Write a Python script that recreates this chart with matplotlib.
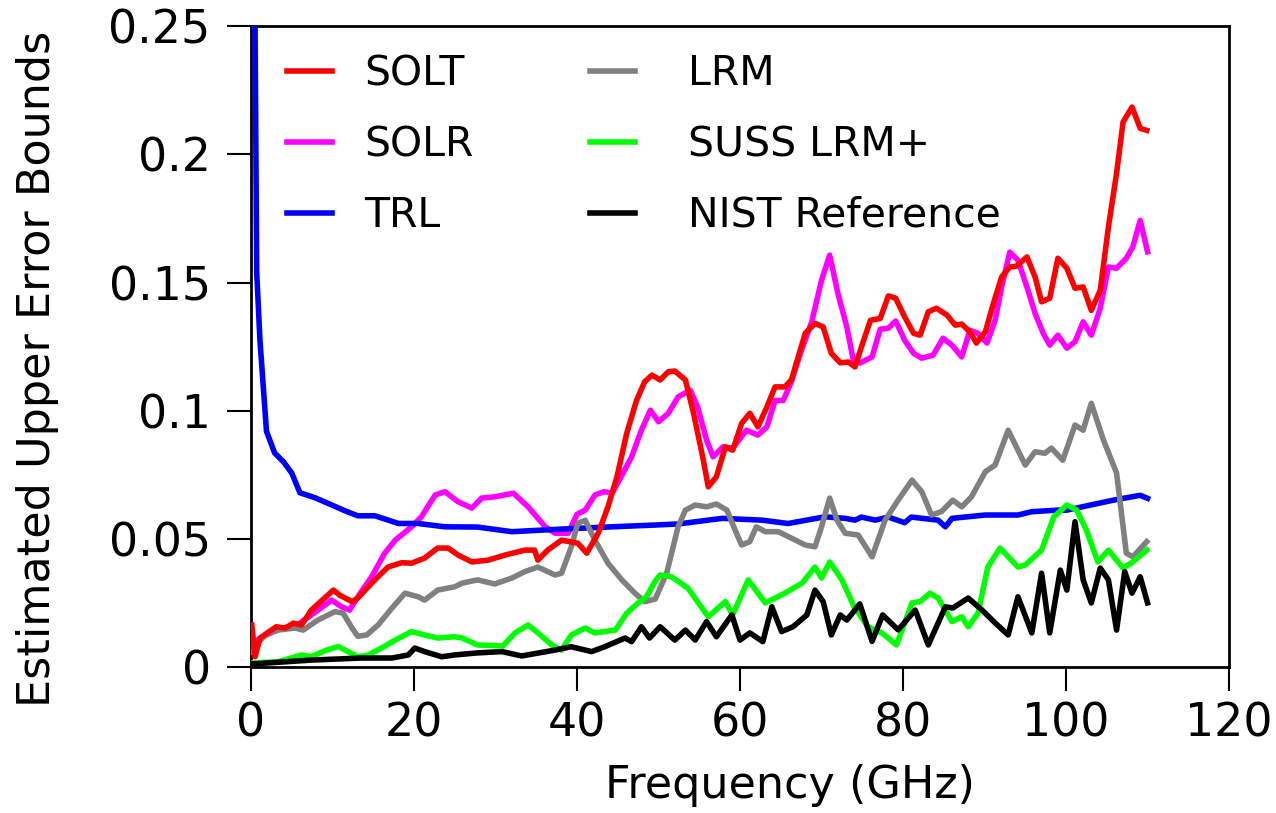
import matplotlib
matplotlib.use("Agg")
import matplotlib.pyplot as plt
from matplotlib.lines import Line2D
from matplotlib.ticker import FormatStrFormatter

# (frequency GHz, error bound)
solt = [(0.1, 0.0164), (0.5, 0.004), (1.1, 0.0113), (3.1, 0.0157), (4.2, 0.0152), (5.2, 0.0171),
        (6.2, 0.0164), (7.4, 0.0222), (10.1, 0.030), (10.9, 0.028), (12.4, 0.0255), (13.1, 0.0269),
        (14.8, 0.0327), (16.8, 0.039), (18.5, 0.0407), (19.7, 0.0405), (21.3, 0.0425), (22.9, 0.0464),
        (24.2, 0.0464), (25.4, 0.0437), (27.1, 0.041), (29.1, 0.0417), (31.2, 0.0437), (33.6, 0.0456),
        (34.8, 0.0456), (35.2, 0.0417), (36.4, 0.0456), (38.1, 0.0495), (40.1, 0.0483), (41.2, 0.0444),
        (42.6, 0.0522), (43.8, 0.0625), (44.9, 0.0742), (46.1, 0.0912), (47.3, 0.104), (48.3, 0.1113),
        (49.2, 0.1139), (50.2, 0.112), (51.2, 0.1152), (52.0, 0.1155), (53.3, 0.112), (54.3, 0.099),
        (55.5, 0.0807), (56.1, 0.0703), (57.1, 0.0742), (58.2, 0.0859), (59.1, 0.0846), (60.2, 0.0951),
        (61.2, 0.099), (62.2, 0.0937), (63.3, 0.1015), (64.3, 0.1093), (65.5, 0.1093), (66.3, 0.112),
        (68.0, 0.1302), (69.2, 0.1341), (70.2, 0.1327), (71.2, 0.1224), (72.3, 0.1187), (73.3, 0.119),
        (74.1, 0.1171), (74.9, 0.1249), (76.0, 0.1353), (77.2, 0.136), (78.2, 0.1448), (79.1, 0.1439),
        (80.2, 0.1366), (81.3, 0.1302), (82.1, 0.1295), (83.1, 0.1386), (84.1, 0.140), (85.4, 0.1373),
        (86.4, 0.1334), (87.2, 0.1338), (88.2, 0.1308), (89.0, 0.1264), (90.1, 0.1308), (91.1, 0.142),
        (92.1, 0.1522), (93.1, 0.1561), (93.9, 0.1564), (95.2, 0.160), (96.2, 0.1522), (97.0, 0.1425),
        (98.0, 0.1439), (99.0, 0.1595), (100.1, 0.1556), (101.1, 0.1478), (102.1, 0.1483), (103.1, 0.1392),
        (104.2, 0.147), (105.2, 0.1717), (106.2, 0.1927), (107.0, 0.2127), (108.1, 0.2185), (109.1, 0.2102),
        (109.9, 0.2094)]

solr = [(0.2, 0.008), (1.0, 0.011), (1.9, 0.0125), (3.8, 0.0152), (5.5, 0.016), (7.4, 0.0203),
        (9.9, 0.0261), (11.1, 0.0235), (12.1, 0.0222), (13.4, 0.0288), (14.8, 0.0352), (16.4, 0.0444),
        (17.7, 0.0495), (19.7, 0.0547), (20.9, 0.0586), (22.6, 0.0671), (23.8, 0.0684), (25.4, 0.0645),
        (27.1, 0.062), (28.3, 0.0659), (29.9, 0.0664), (32.2, 0.0678), (34.0, 0.0625), (36.1, 0.0547),
        (37.3, 0.0522), (38.9, 0.0522), (40.0, 0.0596), (41.0, 0.0612), (42.2, 0.0671), (43.3, 0.0684),
        (44.3, 0.0678), (45.2, 0.073), (46.7, 0.082), (47.9, 0.0924), (49.0, 0.1002), (50.0, 0.0957),
        (51.2, 0.099), (52.4, 0.1054), (53.9, 0.108), (54.8, 0.1015), (55.9, 0.0885), (56.7, 0.082),
        (57.9, 0.0859), (59.1, 0.0854), (60.8, 0.0924), (62.2, 0.0905), (63.3, 0.0937), (64.3, 0.104),
        (65.3, 0.104), (66.3, 0.1113), (67.4, 0.1224), (68.8, 0.1347), (70.0, 0.1509), (71.0, 0.1607),
        (72.0, 0.1459), (73.1, 0.1327), (73.9, 0.1197), (74.7, 0.1186), (76.2, 0.121), (77.2, 0.1318),
        (78.2, 0.1322), (79.1, 0.135), (80.2, 0.1275), (81.3, 0.1224), (82.3, 0.1205), (83.7, 0.1217),
        (84.9, 0.1283), (86.0, 0.1256), (87.2, 0.121), (88.2, 0.1314), (89.2, 0.1302), (90.3, 0.1264),
        (91.3, 0.1353), (92.1, 0.1483), (93.1, 0.1619), (94.1, 0.1587), (95.2, 0.1483), (96.2, 0.138),
        (97.2, 0.1302), (98.0, 0.1256), (99.0, 0.1295), (100.1, 0.1244), (101.1, 0.1269), (102.1, 0.1347),
        (103.1, 0.1295), (104.2, 0.14), (105.2, 0.1561), (106.2, 0.1556), (107.4, 0.1595), (108.2, 0.164),
        (109.1, 0.1743), (110.0, 0.162)]

trl = [(0.25, 0.32), (0.5, 0.25), (0.7, 0.154), (1.1, 0.1275), (1.9, 0.092), (2.9, 0.0835),
       (4.0, 0.080), (5.0, 0.0757), (6.0, 0.068), (7.9, 0.066), (11.5, 0.061), (13.1, 0.059),
       (15.2, 0.059), (18.1, 0.056), (20.5, 0.056), (23.8, 0.0547), (27.8, 0.0546), (32.0, 0.0528),
       (38.0, 0.0538), (44.3, 0.0547), (49.6, 0.0554), (52.4, 0.0558), (57.8, 0.058), (62.7, 0.0573),
       (65.9, 0.056), (70.4, 0.0586), (72.9, 0.058), (74.1, 0.0573), (74.9, 0.0585), (76.6, 0.0573),
       (78.2, 0.0585), (80.2, 0.0563), (81.0, 0.0585), (84.3, 0.0573), (85.2, 0.0547), (86.0, 0.058),
       (90.1, 0.0593), (94.1, 0.0593), (95.8, 0.0606), (98.9, 0.0612), (100.1, 0.0612), (103.0, 0.0632),
       (105.8, 0.0651), (109.1, 0.067), (110.0, 0.0658)]

lrm = [(0.0, 0.006), (1.0, 0.010), (2.0, 0.013), (3.3, 0.0144), (5.4, 0.0152), (6.4, 0.0144),
       (8.2, 0.0183), (10.3, 0.0216), (11.3, 0.021), (12.4, 0.0152), (13.1, 0.012), (14.2, 0.0125),
       (15.6, 0.0164), (17.3, 0.023), (18.9, 0.0288), (20.5, 0.0274), (21.3, 0.0261), (22.9, 0.030),
       (25.0, 0.0313), (25.9, 0.0327), (27.8, 0.034), (29.9, 0.0324), (32.0, 0.0347), (33.6, 0.0372),
       (35.2, 0.039), (37.3, 0.0359), (38.1, 0.0366), (39.3, 0.0469), (40.1, 0.0561), (41.0, 0.0573),
       (42.2, 0.0495), (43.8, 0.0405), (45.5, 0.034), (47.1, 0.0288), (48.3, 0.0255), (49.6, 0.0265),
       (51.0, 0.0366), (52.4, 0.0547), (53.3, 0.0612), (54.5, 0.0632), (55.9, 0.0625), (57.1, 0.0636),
       (58.4, 0.0612), (59.4, 0.0534), (60.2, 0.0476), (61.2, 0.0489), (62.0, 0.0547), (63.1, 0.0528),
       (64.7, 0.0528), (66.3, 0.0503), (68.0, 0.0476), (69.2, 0.0469), (70.0, 0.0547), (71.0, 0.0659),
       (71.9, 0.0573), (72.9, 0.0522), (74.5, 0.0515), (76.2, 0.043), (77.8, 0.0573), (79.4, 0.0651),
       (81.1, 0.0729), (82.3, 0.0684), (83.5, 0.0593), (84.7, 0.0606), (86.1, 0.0651), (87.2, 0.0625),
       (88.4, 0.0664), (90.1, 0.0762), (91.3, 0.0788), (92.9, 0.0924), (95.0, 0.0788), (96.2, 0.084),
       (97.4, 0.0834), (98.2, 0.0854), (99.6, 0.0807), (101.1, 0.0944), (102.1, 0.0924), (103.1, 0.1029),
       (104.6, 0.0885), (106.2, 0.0757), (107.4, 0.0444), (108.2, 0.043), (109.9, 0.0489)]

suss = [(0.3, 0.0016), (3.3, 0.002), (6.2, 0.0047), (7.4, 0.004), (9.1, 0.0064), (10.7, 0.008),
        (11.9, 0.006), (13.1, 0.004), (14.4, 0.0047), (16.0, 0.0074), (17.7, 0.0105), (19.7, 0.0138),
        (21.3, 0.0125), (22.9, 0.0113), (25.0, 0.0118), (25.9, 0.0113), (27.8, 0.0086), (30.9, 0.0082),
        (32.4, 0.0133), (34.0, 0.0164), (35.2, 0.0133), (36.9, 0.0086), (38.1, 0.0066), (39.3, 0.0125),
        (41.0, 0.0152), (42.2, 0.0133), (44.7, 0.0144), (46.1, 0.021), (47.5, 0.025), (48.5, 0.0274),
        (49.6, 0.0335), (50.2, 0.0359), (51.6, 0.0352), (53.6, 0.0308), (56.1, 0.0196), (58.2, 0.0255),
        (59.1, 0.0203), (61.0, 0.034), (63.1, 0.025), (65.5, 0.0288), (67.6, 0.0327), (69.2, 0.039),
        (70.0, 0.0347), (71.0, 0.041), (72.5, 0.034), (74.0, 0.0235), (75.7, 0.0157), (77.4, 0.0133),
        (79.2, 0.0086), (81.1, 0.025), (82.1, 0.0255), (83.3, 0.0288), (84.3, 0.0269), (86.0, 0.0177),
        (87.2, 0.0196), (88.0, 0.0157), (89.2, 0.021), (90.4, 0.039), (91.9, 0.0464), (94.1, 0.039),
        (95.0, 0.0398), (97.0, 0.0456), (98.5, 0.0586), (100.1, 0.0632), (101.3, 0.0612), (102.5, 0.0534),
        (103.9, 0.041), (105.2, 0.0456), (107.0, 0.0386), (108.2, 0.041), (109.9, 0.0456)]

nist = [(0.3, 0.0012), (7.4, 0.0027), (13.6, 0.0035), (17.3, 0.0035), (19.3, 0.0047), (20.1, 0.0074),
        (21.3, 0.006), (23.4, 0.004), (25.0, 0.0047), (27.8, 0.0055), (30.8, 0.006), (33.2, 0.0043),
        (37.3, 0.0066), (39.3, 0.0079), (41.8, 0.006), (43.4, 0.0079), (45.9, 0.0113), (46.7, 0.0099),
        (47.9, 0.0157), (48.9, 0.0113), (50.2, 0.0157), (52.0, 0.0105), (53.3, 0.0144), (54.5, 0.0105),
        (55.9, 0.0177), (57.1, 0.0118), (59.0, 0.0203), (60.0, 0.0105), (61.2, 0.0133), (62.8, 0.0099),
        (63.9, 0.0235), (65.1, 0.0138), (66.5, 0.0157), (68.2, 0.0203), (69.2, 0.030), (70.2, 0.0255),
        (71.2, 0.0125), (72.3, 0.0203), (73.1, 0.0183), (74.7, 0.0246), (76.2, 0.010), (77.5, 0.0203),
        (79.4, 0.0145), (81.5, 0.0222), (83.1, 0.0086), (85.2, 0.0235), (86.1, 0.023), (88.0, 0.0269),
        (89.7, 0.0222), (91.3, 0.0172), (92.9, 0.0125), (94.1, 0.0274), (95.8, 0.0133), (97.0, 0.0366),
        (98.0, 0.0133), (99.3, 0.0378), (100.1, 0.030), (101.1, 0.0567), (102.1, 0.034), (103.1, 0.025),
        (104.2, 0.0386), (105.2, 0.034), (106.2, 0.0144), (107.2, 0.0372), (108.1, 0.0288), (109.1, 0.0352),
        (110.0, 0.025)]

names = ["SOLT", "SOLR", "TRL", "LRM", "SUSS LRM+", "NIST Reference"]
series = [solt, solr, trl, lrm, suss, nist]
colors = ["#ff0000", "#ff00ff", "#0000ff", "#808080", "#00ff00", "#000000"]
zord = [4, 3, 3, 3, 3, 3]

plt.rcParams['font.family'] = ['DejaVu Sans']
fig = plt.figure(figsize=(12.76, 8.13), dpi=100)
ax = fig.add_axes([0.1967, 0.1796, 0.7665, 0.788])

lw = 4.0
for nm, s, c, z in zip(names, series, colors, zord):
    f, v = zip(*s)
    ax.plot(f, v, color=c, lw=lw, zorder=z)

ax.set_xlim(0, 120)
ax.set_ylim(0, 0.25)
ax.set_xticks(range(0, 121, 20))
ax.set_yticks([0, 0.05, 0.1, 0.15, 0.2, 0.25])
ax.yaxis.set_major_formatter(FormatStrFormatter('%g'))
ax.tick_params(axis='both', direction='out', length=17, width=1.5, labelsize=33)
ax.tick_params(axis='y', pad=12)
ax.tick_params(axis='x', pad=8)
for sp in ax.spines.values():
    sp.set_linewidth(2)

ax.set_xlabel("Frequency (GHz)", fontsize=32)
ax.set_ylabel("Estimated Upper Error Bounds", fontsize=32)
ax.xaxis.set_label_coords(0.551, -0.152)
ax.yaxis.set_label_coords(-0.196, 0.466)

def handles(idx):
    return [Line2D([], [], color=colors[i], lw=lw) for i in idx]

leg_kw = dict(frameon=True, facecolor='white', edgecolor='none', framealpha=1,
              fontsize=29.5, handlelength=1.1, labelspacing=0.75, borderpad=0.2,
              borderaxespad=0)
leg1 = ax.legend(handles([0, 1, 2]), names[0:3], loc='upper left',
                 bbox_to_anchor=(0.028, 0.969), handletextpad=0.8, **leg_kw)
ax.add_artist(leg1)
ax.legend(handles([3, 4, 5]), names[3:6], loc='upper left',
          bbox_to_anchor=(0.338, 0.969), handletextpad=1.3, **leg_kw)

fig.savefig("out.png", dpi=100)
